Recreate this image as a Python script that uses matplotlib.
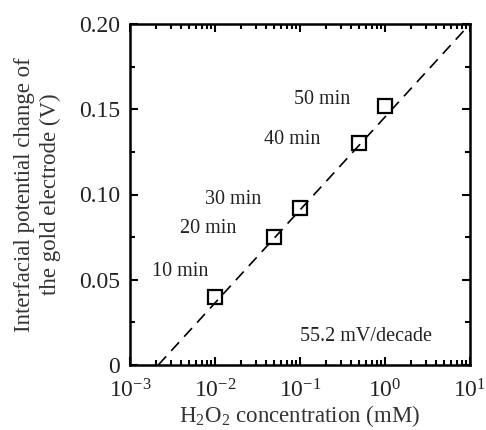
import matplotlib
matplotlib.use("Agg")
import matplotlib.pyplot as plt
from matplotlib.ticker import LogLocator, FixedLocator, NullFormatter, MultipleLocator

plt.rcParams['font.family'] = ['Liberation Serif', 'DejaVu Serif']
plt.rcParams['mathtext.fontset'] = 'custom'
plt.rcParams['mathtext.rm'] = 'Liberation Serif'

# data
conc = [0.01, 0.05, 0.1, 0.5, 1.0]
potential = [0.040, 0.075, 0.092, 0.130, 0.152]
labels = ["10 min", "20 min", "30 min", "40 min", "50 min"]
label_x = [0.0039, 0.0083, 0.0163, 0.080, 0.18]
label_y = [0.055, 0.080, 0.097, 0.132, 0.156]
fit_x = [0.00215, 10.0]
fit_y = [0.0, 0.20]
yticks = [0, 0.05, 0.10, 0.15, 0.20]
ytick_labels = ["0", "0.05", "0.10", "0.15", "0.20"]

fig = plt.figure(figsize=(4.86, 4.30), dpi=100)
ax = fig.add_axes([130/486, 1-365/430, 340/486, 341/430])

ax.plot(fit_x, fit_y, color='black', lw=1.2, dashes=(7, 4.5))
ax.plot(conc, potential, linestyle='none', marker='s', markersize=10,
        markerfacecolor='none', markeredgecolor='black', markeredgewidth=1.6)

for t, lx, ly in zip(labels, label_x, label_y):
    ax.text(lx, ly, t, fontsize=14.5, ha='center', va='center', color='#222222')
ax.text(0.6, 0.017, "55.2 mV/decade", fontsize=14.5, ha='center', va='center', color='#222222')

ax.set_xscale('log')
ax.set_xlim(1e-3, 10)
ax.set_ylim(0, 0.20)
ax.xaxis.set_major_locator(LogLocator(base=10, numticks=10))
ax.xaxis.set_minor_locator(LogLocator(base=10, subs=range(2, 10), numticks=20))
ax.xaxis.set_minor_formatter(NullFormatter())
ax.yaxis.set_major_locator(FixedLocator(yticks))
ax.set_yticklabels(ytick_labels)
ax.yaxis.set_minor_locator(MultipleLocator(0.025))

ax.tick_params(which='both', direction='in', top=True, right=True, width=1.5, colors='black')
ax.tick_params(which='major', length=6, labelsize=17, labelcolor='#222222')
ax.tick_params(axis='y', which='major', pad=7)
ax.tick_params(axis='x', which='major', pad=10)
ax.tick_params(which='minor', length=3.5)
for s in ax.spines.values():
    s.set_linewidth(1.8)

ax.set_xlabel(r"H$_2$O$_2$ concentration (mM)", fontsize=16.5, color='#333333', labelpad=1)
ax.set_ylabel("Interfacial potential change of\nthe gold electrode (V)", fontsize=16.5,
              color='#333333', labelpad=13, linespacing=1.3)

fig.savefig("out.png", dpi=100)
